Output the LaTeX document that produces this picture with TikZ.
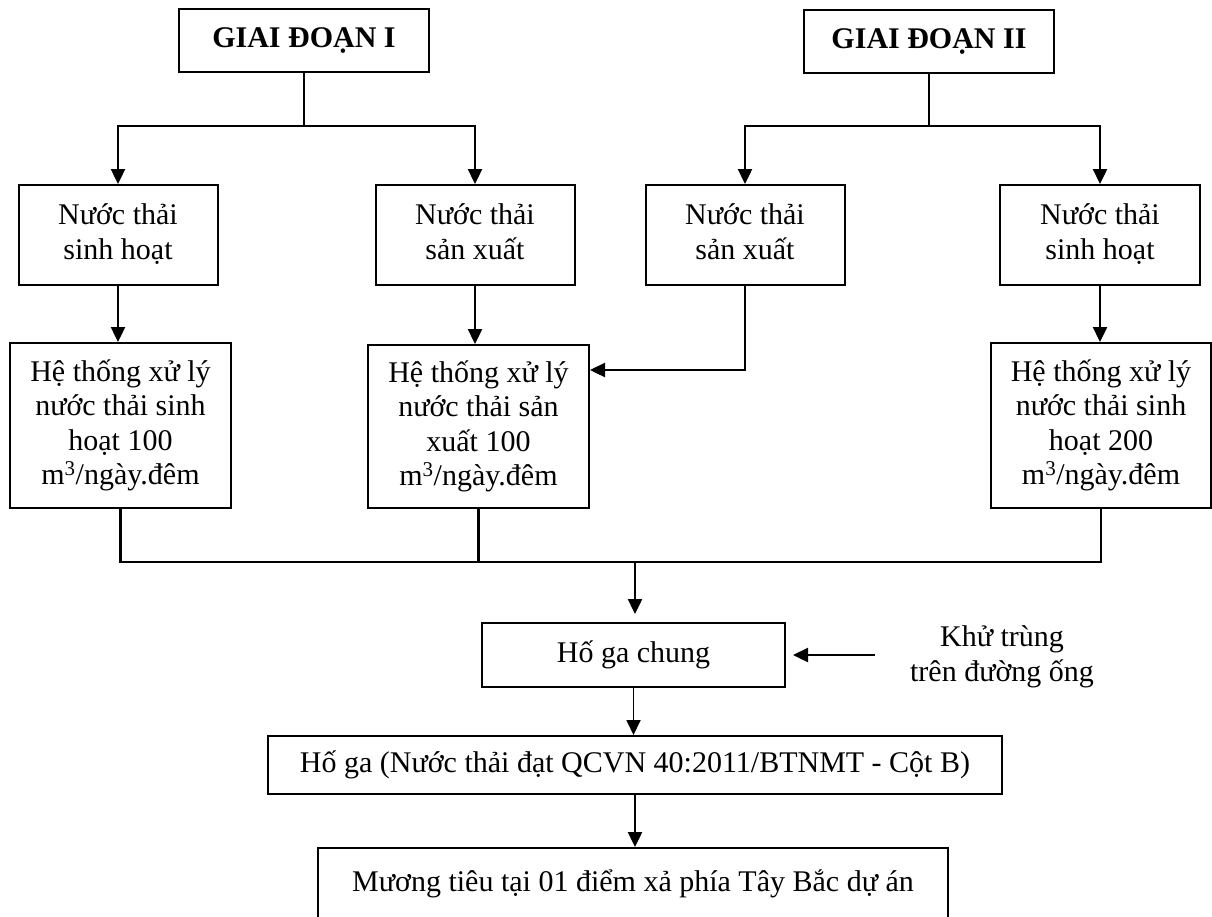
\documentclass[tikz,border=0pt]{standalone}
\usepackage{fontspec}
\setmainfont{Liberation Serif}
\usetikzlibrary{arrows.meta}
\newcommand{\lastdp}{\vphantom{gạ}}
\begin{document}
\begin{tikzpicture}[x=1pt,y=-1pt,
  box/.style={draw, line width=2pt, inner sep=0pt, align=center,
              font=\fontsize{30}{34.5}\selectfont},
  lbl/.style={inner sep=0pt, align=center, font=\fontsize{30}{34.5}\selectfont},
  ln/.style={line width=2.4pt},
  arr/.style={ln, -{Triangle[length=15pt,width=14pt]}},
  thinarr/.style={line width=1.8pt, -{Triangle[length=15pt,width=14pt]}}]
\useasboundingbox (0,0) rectangle (1212,916);

% top stage boxes
\node[box, minimum width=250pt, minimum height=63pt] (g1) at (304,40.5) {\textbf{GIAI ĐOẠN I}};
\node[box, minimum width=250pt, minimum height=63pt] (g2) at (929,41.5) {\textbf{GIAI ĐOẠN II}};

% wastewater sources
\node[box, minimum width=199pt, minimum height=100pt] (s1) at (118,235) {Nước thải\\sinh hoạt\lastdp};
\node[box, minimum width=199pt, minimum height=100pt] (x1) at (475,235) {Nước thải\\sản xuất\lastdp};
\node[box, minimum width=199pt, minimum height=100pt] (x2) at (745,235) {Nước thải\\sản xuất\lastdp};
\node[box, minimum width=200pt, minimum height=100pt] (s2) at (1100,235) {Nước thải\\sinh hoạt\lastdp};

% treatment systems
\node[box, minimum width=221pt, minimum height=165pt] (h1) at (120.5,425.5) {Hệ thống xử lý\\nước thải sinh\\hoạt 100\\m\textsuperscript{3}/ngày.đêm};
\node[box, minimum width=221pt, minimum height=163pt] (h2) at (478.5,426.5) {Hệ thống xử lý\\nước thải sản\\xuất 100\\m\textsuperscript{3}/ngày.đêm};
\node[box, minimum width=220pt, minimum height=165pt] (h3) at (1101,425.5) {Hệ thống xử lý\\nước thải sinh\\hoạt 200\\m\textsuperscript{3}/ngày.đêm};

% collection
\node[box, minimum width=303pt, minimum height=64pt] (hgc) at (633.5,655) {Hố ga chung};
\node[lbl] (kt) at (1002,657) {Khử trùng\\trên đường ống};
\node[box, minimum width=734pt, minimum height=58pt] (qc) at (635,765) {Hố ga (Nước thải đạt QCVN 40:2011/BTNMT - Cột B)};
\node[box, minimum width=630pt, minimum height=72pt] (mt) at (633,884) {Mương tiêu tại 01 điểm xả phía Tây Bắc dự án};

% junction coordinates
\coordinate (j1) at (304,126);
\coordinate (j2) at (929,126);
\coordinate (c370) at (0,370);
\coordinate (bus) at (635,562);

% stage I split
\draw[ln] (g1.south) -- (j1);
\draw[arr] (j1) -| (s1.north);
\draw[arr] (j1) -| (x1.north);
% stage II split
\draw[ln] (g2.south) -- (j2);
\draw[arr] (j2) -| (x2.north);
\draw[arr] (j2) -| (s2.north);

% sources to treatment
\draw[arr] (s1.south) -- (s1.south |- h1.north);
\draw[arr] (x1.south) -- (x1.south |- h2.north);
\draw[arr] (s2.south) -- (s2.south |- h3.north);
\draw[arr] (x2.south) |- (h2.east |- c370);

% collecting bus
\draw[ln] (h1.south) -- (h1.south |- bus) -- (h3.south |- bus) -- (h3.south);
\draw[ln] (h2.south) -- (h2.south |- bus);
\draw[arr, shorten >=8pt] (bus) -- (bus |- hgc.north);

% disinfection
\draw[arr, shorten <=35pt, shorten >=7pt] (kt.west |- hgc.east) -- (hgc.east);

% downstream
\draw[thinarr] (hgc.south) -- (hgc.south |- qc.north);
\draw[arr] (qc.south) -- (qc.south |- mt.north);
\end{tikzpicture}
\end{document}
